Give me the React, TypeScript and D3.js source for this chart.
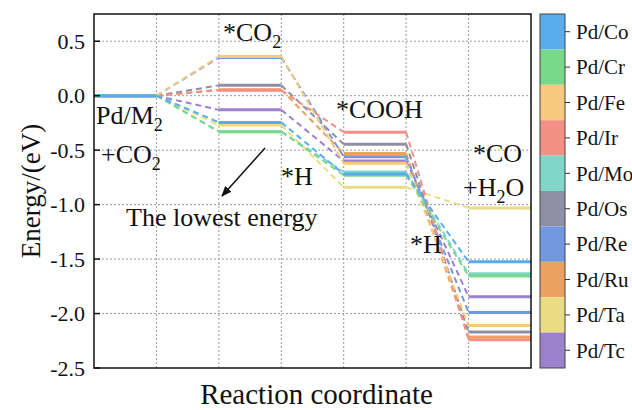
import React from "react";
import * as d3 from "d3";

// series, in legend order
const metals = ["Pd/Co", "Pd/Cr", "Pd/Fe", "Pd/Ir", "Pd/Mo", "Pd/Os", "Pd/Re", "Pd/Ru", "Pd/Ta", "Pd/Tc"];
const colors = ["#5aadec", "#78d98c", "#f7c97c", "#f48f86", "#7fd7c9", "#8f90a6", "#7198e0", "#eca15f", "#e9dc82", "#9c82cd"];

// energies (eV) at each reaction state
const eStart = [0, 0, 0, 0, 0, 0, 0, 0, 0, 0];
const eCO2 = [-0.245, -0.33, 0.36, 0.05, -0.33, 0.095, 0.35, 0.055, -0.27, -0.13];
const eCOOH = [-0.72, -0.73, -0.62, -0.335, -0.7, -0.445, -0.56, -0.53, -0.84, -0.6];
const eCO = [-1.525, -1.655, -2.11, -2.24, -1.635, -2.17, -1.99, -2.215, -1.03, -1.845];

const yTicks = [0.5, 0.0, -0.5, -1.0, -1.5, -2.0, -2.5];
const xGrid = [1, 2, 3, 4, 5, 6];

const W = 632;
const H = 410;
const margin = { top: 14, right: 101, bottom: 42, left: 94 };
const font = "'Liberation Serif', 'Times New Roman', serif";

const App = () => {
  const x = d3.scaleLinear().domain([0, 7]).range([margin.left, W - margin.right]);
  const y = d3.scaleLinear().domain([-2.5, 0.75]).range([H - margin.bottom, margin.top]);

  const states = [eStart, eCO2, eCOOH, eCO];
  const order = d3.range(metals.length).reverse();

  const cbar = d3.scaleBand().domain(metals).range([margin.top, H - margin.bottom]);
  const cbX = 540;
  const cbW = 25;

  // subscript via dy shift, optional trailing text back on the baseline
  const sub = (s: string, after?: string) => (
    <>
      <tspan dy={7} fontSize={18}>{s}</tspan>
      {after && <tspan dy={-7}>{after}</tspan>}
    </>
  );

  return (
    <svg width={W} height={H} style={{ position: "absolute", left: 0, top: 0 }} fontFamily={font}>
      <rect x={0} y={0} width={W} height={H} fill="white" />
      {/* grid */}
      {yTicks.slice(0, -1).map((t) => (
        <line key={"gy" + t} x1={x(0)} x2={x(7)} y1={y(t)} y2={y(t)} stroke="#9a9a9a" strokeDasharray="2 2" strokeWidth={1} />
      ))}
      {xGrid.map((t) => (
        <line key={"gx" + t} x1={x(t)} x2={x(t)} y1={y(0.75)} y2={y(-2.5)} stroke="#9a9a9a" strokeDasharray="2 2" strokeWidth={1} />
      ))}

      {/* dashed connectors */}
      {order.map((i) =>
        states.slice(0, -1).map((s, k) => (
          <line
            key={"c" + i + "-" + k}
            x1={x(2 * k + 1)}
            x2={x(2 * k + 2)}
            y1={y(s[i])}
            y2={y(states[k + 1][i])}
            stroke={colors[i]}
            strokeWidth={2}
            strokeDasharray="6 4"
          />
        ))
      )}
      {/* energy levels */}
      {order.map((i) =>
        states.map((s, k) => (
          <line key={"l" + i + "-" + k} x1={x(2 * k)} x2={x(2 * k + 1)} y1={y(s[i])} y2={y(s[i])} stroke={colors[i]} strokeWidth={3} />
        ))
      )}

      {/* frame and y axis */}
      <rect x={x(0)} y={y(0.75)} width={x(7) - x(0)} height={y(-2.5) - y(0.75)} fill="none" stroke="#111" strokeWidth={1.5} />
      {yTicks.map((t) => (
        <g key={"yt" + t}>
          <line x1={x(0)} x2={x(0) + 6} y1={y(t)} y2={y(t)} stroke="#111" strokeWidth={1.5} />
          <text x={x(0) - 9} y={y(t)} dy="0.35em" textAnchor="end" fontSize={22} fill="#111">
            {t.toFixed(1)}
          </text>
        </g>
      ))}
      <text transform={`translate(31,${(y(0.75) + y(-2.5)) / 2}) rotate(-90)`} textAnchor="middle" dy="0.35em" fontSize={27} fill="#111">
        Energy/(eV)
      </text>
      <text x={(x(0) + x(7)) / 2 + 4} y={404} textAnchor="middle" fontSize={29} fill="#111">
        Reaction coordinate
      </text>

      {/* annotations */}
      <g fontSize={26} fill="#111">
        <text x={223} y={41}>*CO{sub("2")}</text>
        <text x={96} y={124}>Pd/M{sub("2")}</text>
        <text x={101} y={163}>+CO{sub("2")}</text>
        <text x={336} y={118}>*COOH</text>
        <text x={281} y={185}>*H</text>
        <text x={473} y={162}>*CO</text>
        <text x={463} y={196}>+H{sub("2", "O")}</text>
        <text x={410} y={253}>*H</text>
      </g>
      <text x={126} y={226} fontSize={26} fill="#111">The lowest energy</text>
      <defs>
        <marker id="ah" viewBox="0 0 10 10" refX="9" refY="5" markerWidth="7" markerHeight="7" orient="auto">
          <path d="M0,1 L10,5 L0,9 z" fill="#111" />
        </marker>
      </defs>
      <line x1={x(2.74)} y1={y(-0.48)} x2={x(2.05)} y2={y(-0.92)} stroke="#111" strokeWidth={1.5} markerEnd="url(#ah)" />

      {/* colour bar legend */}
      {metals.map((m, i) => (
        <g key={"cb" + m}>
          <rect x={cbX} y={cbar(m)} width={cbW} height={cbar.bandwidth()} fill={colors[i]} />
          <line x1={cbX + cbW} x2={cbX + cbW + 5} y1={cbar(m)! + cbar.bandwidth() / 2} y2={cbar(m)! + cbar.bandwidth() / 2} stroke="#333" />
          <text x={cbX + cbW + 11} y={cbar(m)! + cbar.bandwidth() / 2} dy="0.35em" fontSize={21} fill="#111">
            {m}
          </text>
        </g>
      ))}
      <rect x={cbX} y={margin.top} width={cbW} height={H - margin.bottom - margin.top} fill="none" stroke="#444" strokeWidth={1} />
    </svg>
  );
};

export default App;
